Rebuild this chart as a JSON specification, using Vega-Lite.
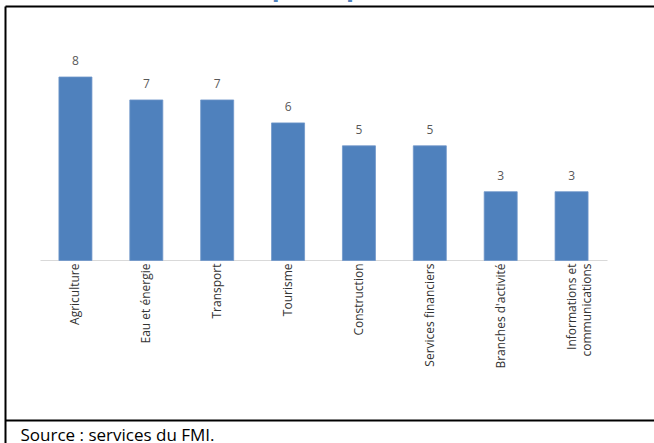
{
  "$schema": "https://vega.github.io/schema/vega-lite/v6.json",
  "autosize": "none",
  "padding": {"left": 5, "top": 6, "right": 0, "bottom": 0},
  "width": 649,
  "height": 437,
  "title": {
    "text": "publiques",
    "font": "Open Sans",
    "fontSize": 26,
    "fontWeight": "bold",
    "color": "#4F81BD",
    "anchor": "middle",
    "baseline": "alphabetic",
    "offset": -19,
    "dx": 6
  },
  "data": {
    "values": [
      {"secteur": "Agriculture", "nombre": 8},
      {"secteur": "Eau et énergie", "nombre": 7},
      {"secteur": "Transport", "nombre": 7},
      {"secteur": "Tourisme", "nombre": 6},
      {"secteur": "Construction", "nombre": 5},
      {"secteur": "Services financiers", "nombre": 5},
      {"secteur": "Branches d'activité", "nombre": 3},
      {"secteur": "Informations et communications", "nombre": 3}
    ]
  },
  "resolve": {
    "scale": {"x": "independent", "y": "independent"},
    "axis": {"x": "independent", "y": "independent"}
  },
  "layer": [
    {
      "mark": {"type": "bar", "color": "#4F81BD", "stroke": "#7097c9", "strokeWidth": 0.8},
      "encoding": {
        "x": {
          "field": "secteur",
          "type": "nominal",
          "sort": null,
          "scale": {"range": [35, 602], "paddingInner": 0.534, "paddingOuter": 0.267},
          "axis": {
            "orient": "bottom",
            "offset": -183,
            "title": null,
            "domainColor": "#d9d9d9",
            "domainWidth": 1,
            "ticks": false,
            "grid": false,
            "labelAngle": -90,
            "labelPadding": 3,
            "labelFont": "Open Sans",
            "labelFontSize": 12,
            "labelColor": "#333333",
            "labelLineHeight": 15,
            "labelExpr": "datum.label == 'Informations et communications' ? ['Informations et', 'communications'] : datum.label"
          }
        },
        "y": {
          "field": "nombre",
          "type": "quantitative",
          "scale": {"domain": [0, 8], "range": [254.5, 71], "nice": false},
          "axis": null
        }
      }
    },
    {
      "mark": {"type": "text", "baseline": "alphabetic", "dy": -12, "font": "Open Sans", "fontSize": 12, "color": "#595959"},
      "encoding": {
        "x": {
          "field": "secteur",
          "type": "nominal",
          "sort": null,
          "scale": {"range": [35, 602], "paddingInner": 0.534, "paddingOuter": 0.267},
          "axis": null
        },
        "y": {
          "field": "nombre",
          "type": "quantitative",
          "scale": {"domain": [0, 8], "range": [254.5, 71], "nice": false},
          "axis": null
        },
        "text": {"field": "nombre", "type": "quantitative"}
      }
    },
    {
      "mark": {"type": "point", "opacity": 0},
      "encoding": {
        "x": {
          "field": "nombre",
          "type": "quantitative",
          "axis": {"orient": "top", "labels": false, "ticks": false, "grid": false, "title": null, "domainColor": "#000000", "domainWidth": 2}
        },
        "y": {
          "field": "nombre",
          "type": "quantitative",
          "axis": {"orient": "left", "labels": false, "ticks": false, "grid": false, "title": null, "domainColor": "#000000", "domainWidth": 2}
        }
      }
    },
    {
      "mark": {"type": "point", "opacity": 0},
      "encoding": {
        "x": {
          "field": "nombre",
          "type": "quantitative",
          "axis": {
            "orient": "bottom",
            "offset": -23,
            "labels": false,
            "ticks": false,
            "grid": false,
            "domainColor": "#000000",
            "domainWidth": 2,
            "title": "Source : services du FMI.",
            "titleFont": "Open Sans",
            "titleFontSize": 17,
            "titleFontWeight": "normal",
            "titleColor": "#000000",
            "titleAnchor": "start",
            "titleAlign": "left",
            "titleBaseline": "alphabetic",
            "titleX": 15,
            "titleY": 20
          }
        }
      }
    }
  ],
  "config": {
    "view": {"stroke": null}
  }
}
